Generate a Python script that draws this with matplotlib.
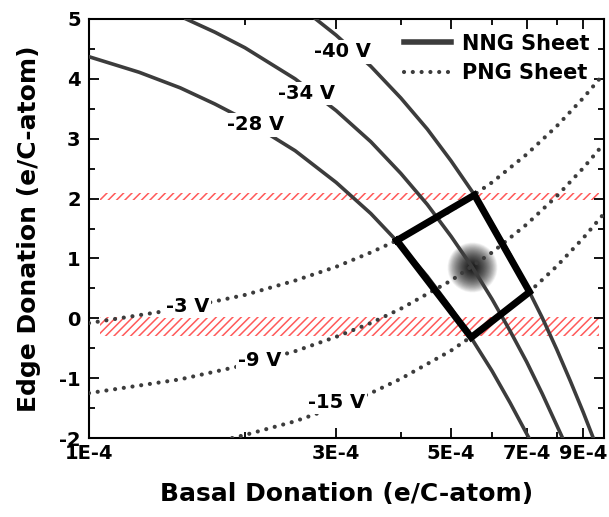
import numpy as np
import matplotlib
matplotlib.use('Agg')
import matplotlib.pyplot as plt
from matplotlib.ticker import FixedLocator, FixedFormatter, NullFormatter

plt.rcParams['font.family'] = ['DejaVu Sans']
plt.rcParams['font.weight'] = 'bold'
plt.rcParams['axes.unicode_minus'] = False
plt.rcParams['hatch.linewidth'] = 1.1

# ---- NNG sheet lines (solid) : basal donation vs edge donation ----
nng_28_x = [1.0e-4, 1.25e-4, 1.5e-4, 1.75e-4, 2.0e-4, 2.5e-4, 3.0e-4, 3.5e-4, 4.0e-4, 4.5e-4, 5.0e-4, 5.5e-4, 6.0e-4, 6.5e-4, 7.07e-4]
nng_28_y = [4.37, 4.11, 3.85, 3.58, 3.32, 2.80, 2.27, 1.75, 1.22, 0.70, 0.17, -0.36, -0.88, -1.41, -2.0]

nng_34_x = [1.54e-4, 1.75e-4, 2.0e-4, 2.5e-4, 3.0e-4, 3.5e-4, 4.0e-4, 4.5e-4, 5.0e-4, 5.5e-4, 6.0e-4, 6.5e-4, 7.0e-4, 7.5e-4, 8.21e-4]
nng_34_y = [5.0, 4.78, 4.52, 4.00, 3.47, 2.95, 2.42, 1.90, 1.37, 0.85, 0.32, -0.21, -0.73, -1.26, -2.0]

nng_40_x = [2.74e-4, 3.0e-4, 3.5e-4, 4.0e-4, 4.5e-4, 5.0e-4, 5.5e-4, 6.0e-4, 6.5e-4, 7.0e-4, 7.5e-4, 8.0e-4, 8.5e-4, 9.0e-4, 9.41e-4]
nng_40_y = [5.0, 4.73, 4.21, 3.68, 3.16, 2.63, 2.11, 1.58, 1.06, 0.53, 0.01, -0.52, -1.05, -1.57, -2.0]

# ---- PNG sheet lines (dotted) ----
png_3_x = [1.0e-4, 1.5e-4, 2.0e-4, 2.5e-4, 3.0e-4, 3.5e-4, 4.0e-4, 5.0e-4, 6.0e-4, 7.0e-4, 8.0e-4, 9.0e-4, 9.85e-4]
png_3_y = [-0.08, 0.16, 0.39, 0.63, 0.86, 1.10, 1.33, 1.80, 2.27, 2.74, 3.21, 3.68, 4.08]

png_9_x = [1.0e-4, 1.5e-4, 2.0e-4, 2.5e-4, 3.0e-4, 3.5e-4, 4.0e-4, 5.0e-4, 6.0e-4, 7.0e-4, 8.0e-4, 9.0e-4, 9.85e-4]
png_9_y = [-1.25, -1.02, -0.78, -0.55, -0.31, -0.08, 0.16, 0.63, 1.10, 1.57, 2.04, 2.51, 2.91]

png_15_x = [1.89e-4, 2.0e-4, 2.5e-4, 3.0e-4, 3.5e-4, 4.0e-4, 5.0e-4, 6.0e-4, 7.0e-4, 8.0e-4, 9.0e-4, 9.85e-4]
png_15_y = [-2.0, -1.95, -1.72, -1.48, -1.25, -1.01, -0.54, -0.07, 0.40, 0.87, 1.34, 1.74]

# curve labels (text, x, y)
curve_labels = ['-40 V', '-34 V', '-28 V', '-3 V', '-9 V', '-15 V']
label_x = [3.08e-4, 2.63e-4, 2.10e-4, 1.55e-4, 2.14e-4, 3.0e-4]
label_y = [4.45, 3.75, 3.23, 0.20, -0.71, -1.41]

# box corners: (-28,-3), (-40,-3), (-40,-15), (-28,-15)
box_x = [3.93e-4, 5.55e-4, 7.09e-4, 5.47e-4, 3.93e-4]
box_y = [1.30, 2.06, 0.44, -0.32, 1.30]

# best-fit spot
blob_x = 5.49e-4
blob_y = 0.86

# hatched bands (y range) and x extent
band_upper = (1.98, 2.10)
band_lower = (-0.30, 0.02)
band_x = (1.05e-4, 9.65e-4)

xtick_major = [1e-4, 3e-4, 5e-4, 7e-4, 9e-4]
xtick_labels = ['1E-4', '3E-4', '5E-4', '7E-4', '9E-4']
xtick_minor = [2e-4, 4e-4, 6e-4, 8e-4]

fig = plt.figure(figsize=(6.09, 5.17), dpi=100)
ax = fig.add_axes([89 / 609, 79 / 517, 515 / 609, 419 / 517])
ax.set_xscale('log')
ax.set_xlim(1e-4, 9.87e-4)
ax.set_ylim(-2, 5)

line_col = '#3c3c3c'

# hatched bands
for lo, hi in [band_upper, band_lower]:
    ax.fill_between(band_x, lo, hi, facecolor='none', edgecolor='#ff5a5a',
                    hatch='////', linewidth=0, zorder=1)

# blurred spot (stack of faint discs -> soft glow)
n_layers = 50
for i in range(n_layers):
    d = 36 * (1 - i / n_layers) ** 1.3
    ax.scatter([blob_x], [blob_y], s=d ** 2, color='black', alpha=0.045,
               linewidths=0, zorder=2)

# solid lines
ax.plot(nng_28_x, nng_28_y, color=line_col, lw=2.6, zorder=3, label='NNG Sheet')
ax.plot(nng_34_x, nng_34_y, color=line_col, lw=2.6, zorder=3)
ax.plot(nng_40_x, nng_40_y, color=line_col, lw=2.6, zorder=3)

# dotted lines
dot_kw = dict(color=line_col, lw=3.0, linestyle=(0, (0.01, 2.1)),
              dash_capstyle='round', zorder=3)
ax.plot(png_3_x, png_3_y, label='PNG Sheet', **dot_kw)
ax.plot(png_9_x, png_9_y, **dot_kw)
ax.plot(png_15_x, png_15_y, **dot_kw)

# box
ax.plot(box_x, box_y, color='black', lw=5, solid_joinstyle='miter', zorder=4)

# curve labels with white background to break the lines
for txt, lx, ly in zip(curve_labels, label_x, label_y):
    ax.text(lx, ly, txt, fontsize=14, fontweight='bold', ha='center', va='center',
            bbox=dict(facecolor='white', edgecolor='none', pad=1.5), zorder=5)

# ticks
ax.xaxis.set_major_locator(FixedLocator(xtick_major))
ax.xaxis.set_major_formatter(FixedFormatter(xtick_labels))
ax.xaxis.set_minor_locator(FixedLocator(xtick_minor))
ax.xaxis.set_minor_formatter(NullFormatter())
ax.set_yticks(np.arange(-2, 6, 1))
ax.set_yticks(np.arange(-1.5, 5, 1), minor=True)
ax.tick_params(which='both', direction='in', top=True, right=True, width=1.3, labelsize=14)
ax.tick_params(which='major', length=7)
ax.tick_params(which='minor', length=4)
ax.tick_params(axis='x', pad=4)
ax.tick_params(axis='y', pad=6)
for lab in ax.get_xticklabels() + ax.get_yticklabels():
    lab.set_fontweight('bold')
for sp in ax.spines.values():
    sp.set_linewidth(1.5)

ax.set_xlabel('Basal Donation (e/C-atom)', fontsize=18, fontweight='bold', labelpad=14)
ax.set_ylabel('Edge Donation (e/C-atom)', fontsize=18, fontweight='bold', labelpad=13)

leg = ax.legend(loc='upper right', frameon=False, fontsize=15, handlelength=2.3,
                borderaxespad=0.3, labelspacing=0.45, handletextpad=0.5)
for t in leg.get_texts():
    t.set_fontweight('bold')
leg.get_lines()[0].set_linewidth(4)

fig.savefig('out.png', dpi=100)
